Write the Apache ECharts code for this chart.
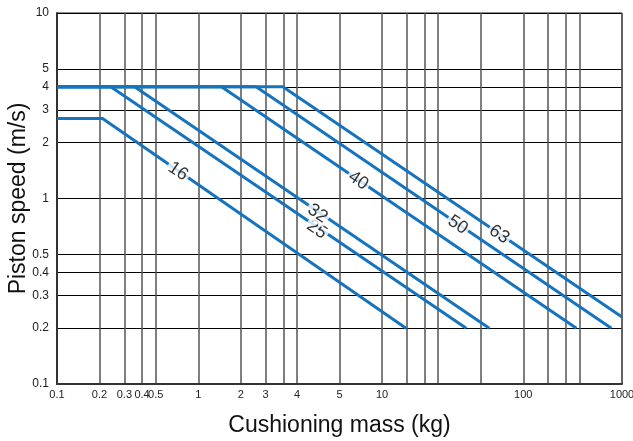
<!DOCTYPE html>
<html>
<head>
<meta charset="utf-8">
<script src="https://cdn.jsdelivr.net/npm/echarts@6/dist/echarts.min.js"></script>
<style>
  html, body { margin: 0; padding: 0; background: #fff; }
  #chart { width: 633px; height: 441px; }
</style>
</head>
<body>
<div id="chart"></div>
<script>
// bore sizes (mm) and their speed limit curves
const bores = ["16", "25", "32", "40", "50", "63"]
const maxSpeed = [2.7, 4, 4, 4, 4, 4]
const breakMass = [0.21, 0.24, 0.354, 1.46, 2.57, 3.97]
const endMass = [29.6, 79, 115, 476, 841, 1000]
const endSpeed = [0.2, 0.2, 0.2, 0.2, 0.2, 0.23]
// where each bore number sits on its line
const tagMass = [0.72, 6.9, 7.0, 13.6, 68.7, 135]
const tagSpeed = [1.4, 0.68, 0.83, 1.25, 0.72, 0.64]

const massGrid = [0.1, 0.2, 0.3, 0.4, 0.5, 1, 2, 3, 4, 5, 10, 20, 30, 40, 50, 100, 200, 300, 400, 500, 1000]
const massTickValues = [0.1, 0.2, 0.3, 0.4, 0.5, 1, 2, 3, 5, 10, 20, 200, 1000]
const massTickLabels = ["0.1", "0.2", "0.3", "0.4", "0.5", "1", "2", "3", "4", "5", "10", "100", "1000"]
const speedGrid = [0.1, 0.2, 0.3, 0.4, 0.5, 1, 2, 3, 4, 5, 10]
const speedTickLabels = ["0.1", "0.2", "0.3", "0.4", "0.5", "1", "2", "3", "4", "5", "10"]

const BLUE = "#1673bd"
const FONT = "Liberation Sans, Arial, sans-serif"

function lookup(values, labels, value) {
  const i = values.findIndex((v) => Math.abs(v - value) < v * 1e-6)
  return i >= 0 ? labels[i] : ""
}

const chart = echarts.init(document.getElementById("chart"), null, { renderer: "canvas" })

const lineSeries = bores.map((bore, i) => ({
  name: bore,
  type: "line",
  silent: true,
  showSymbol: false,
  symbol: "none",
  lineStyle: { color: BLUE, width: 3 },
  data: [
    [0.1, maxSpeed[i]],
    [breakMass[i], maxSpeed[i]],
    [endMass[i], endSpeed[i]]
  ],
  z: 3
}))

chart.setOption({
  animation: false,
  backgroundColor: "#fff",
  textStyle: { fontFamily: FONT },
  grid: {
    left: 57, right: 11, top: 13, bottom: 57,
    outerBoundsMode: "none",
    containLabel: false,
    show: true, borderColor: "#222", borderWidth: 1
  },
  xAxis: {
    type: "log",
    logBase: 10,
    min: 0.1,
    max: 1000,
    name: "Cushioning mass (kg)",
    nameLocation: "middle",
    nameGap: 30,
    nameTextStyle: { fontSize: 23, color: "#111", fontFamily: FONT },
    axisLine: { show: true, lineStyle: { color: "#333", width: 2 } },
    axisTick: { show: false, customValues: massGrid },
    axisLabel: {
      customValues: massTickValues,
      fontSize: 11,
      color: "#222",
      margin: 5,
      formatter: (v) => lookup(massTickValues, massTickLabels, v)
    },
    splitLine: { show: true, lineStyle: { color: "#555", width: 1.5 } }
  },
  yAxis: {
    type: "log",
    logBase: 10,
    min: 0.1,
    max: 10,
    name: "Piston speed (m/s)",
    nameLocation: "middle",
    nameMoveOverlap: false,
    nameGap: 27,
    nameTextStyle: { fontSize: 23, color: "#111", fontFamily: FONT },
    axisLine: { show: true, lineStyle: { color: "#333", width: 2 } },
    axisTick: { show: false, customValues: speedGrid },
    axisLabel: {
      customValues: speedGrid,
      fontSize: 12,
      color: "#222",
      margin: 8,
      formatter: (v) => lookup(speedGrid, speedTickLabels, v)
    },
    splitLine: { show: true, lineStyle: { color: "#000", width: 1.2 } }
  },
  series: [
    ...lineSeries,
    {
      type: "scatter",
      silent: true,
      symbolSize: 1,
      itemStyle: { color: "rgba(0,0,0,0)" },
      data: bores.map((bore, i) => ({ name: bore, value: [tagMass[i], tagSpeed[i]] })),
      label: {
        show: true,
        position: "inside",
        formatter: "{b}",
        rotate: -34,
        fontSize: 18,
        color: "#000",
        fontFamily: FONT,
        backgroundColor: "#fff",
        padding: [0, 2]
      },
      z: 5
    }
  ]
})
</script>
</body>
</html>
